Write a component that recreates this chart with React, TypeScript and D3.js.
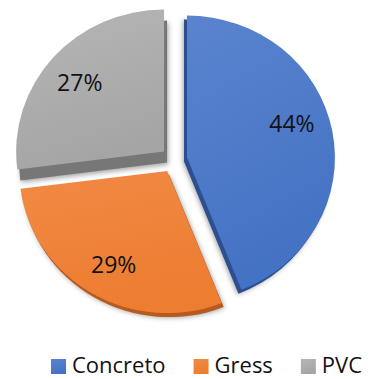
import React, { useEffect, useRef } from "react";
import * as d3 from "d3";

const categories = ["Concreto", "Gress", "PVC"];
const values = [44, 29, 27];
const labels = ["44%", "29%", "27%"];
const colors = ["#4472C4", "#ED7D31", "#A5A5A5"];
const lightColors = ["#5A84CF", "#F18A45", "#B6B6B6"];
const darkColors = ["#2C4F8F", "#B65A1E", "#777777"];

const W = 370;
const H = 379;
const CX = 174;
const CY = 160;
const R = 145;
const EXPLODE = 13;
const SX = 1.02;
const SY = 0.98;
const SIDE: [number, number][] = [[-3, 4], [2, 4], [3, 11]];
const FONT = "'Open Sans', 'Noto Sans', sans-serif";

export default function App() {
  const ref = useRef<SVGSVGElement>(null);
  useEffect(() => {
    const svg = d3.select(ref.current);
    svg.selectAll("*").remove();
    const defs = svg.append("defs");
    colors.forEach((c, i) => {
      const g = defs
        .append("linearGradient")
        .attr("id", `grad${i}`)
        .attr("x1", 0)
        .attr("y1", 0)
        .attr("x2", 0.3)
        .attr("y2", 1);
      g.append("stop").attr("offset", "0%").attr("stop-color", lightColors[i]);
      g.append("stop").attr("offset", "100%").attr("stop-color", c);
    });
    const f = defs
      .append("filter")
      .attr("id", "blur")
      .attr("x", "-20%")
      .attr("y", "-20%")
      .attr("width", "140%")
      .attr("height", "140%");
    f.append("feGaussianBlur").attr("stdDeviation", 2.5);

    const pie = d3.pie<number>().sort(null).value((d) => d)(values);
    const arc = d3.arc<d3.PieArcDatum<number>>().innerRadius(0).outerRadius(R);
    const slices = pie.map((p, i) => {
      const mid = (p.startAngle + p.endAngle) / 2;
      return { p, i, mid, dx: Math.sin(mid) * EXPLODE, dy: -Math.cos(mid) * EXPLODE };
    });
    const tr = (s: any, ox = 0, oy = 0) =>
      `translate(${CX + s.dx * SX + ox},${CY + s.dy * SY + oy}) scale(${SX},${SY})`;

    // soft shadows
    slices.forEach((s) => {
      svg
        .append("path")
        .attr("d", arc(s.p) as string)
        .attr("transform", tr(s, SIDE[s.i][0] * 1.4, SIDE[s.i][1] * 1.2))
        .attr("fill", "rgba(0,0,0,0.35)")
        .attr("filter", "url(#blur)");
    });
    // extruded sides
    slices.forEach((s) => {
      svg
        .append("path")
        .attr("d", arc(s.p) as string)
        .attr("transform", tr(s, SIDE[s.i][0], SIDE[s.i][1]))
        .attr("fill", darkColors[s.i]);
    });
    // faces
    slices.forEach((s) => {
      svg
        .append("path")
        .attr("d", arc(s.p) as string)
        .attr("transform", tr(s))
        .attr("fill", `url(#grad${s.i})`);
    });
    // labels (placed on the slice's bisector, pulled slightly toward 12 o'clock for wide slices)
    const lr = R * 0.75;
    slices.forEach((s) => {
      const span = s.p.endAngle - s.p.startAngle;
      const a = s.mid - Math.max(0, span - Math.PI / 2) * 0.12;
      const x = CX + (s.dx + Math.sin(a) * lr) * SX;
      const y = CY + (s.dy - Math.cos(a) * lr) * SY;
      svg
        .append("text")
        .attr("x", x)
        .attr("y", y)
        .attr("text-anchor", "middle")
        .attr("dominant-baseline", "central")
        .attr("font-family", FONT)
        .attr("font-size", 23)
        .attr("fill", "#111")
        .text(labels[s.i]);
    });
    // legend
    let lx = 51;
    const sq = 15;
    categories.forEach((c, i) => {
      svg
        .append("rect")
        .attr("x", lx)
        .attr("y", 359)
        .attr("width", sq)
        .attr("height", sq)
        .attr("fill", `url(#grad${i})`);
      const t = svg
        .append("text")
        .attr("x", lx + 21)
        .attr("y", 372.5)
        .attr("font-family", FONT)
        .attr("font-size", 22)
        .attr("fill", "#111")
        .text(c);
      const w = (t.node() as SVGTextElement).getComputedTextLength();
      lx = lx + 21 + w + 28;
    });
  }, []);
  return (
    <svg
      ref={ref}
      width={W}
      height={H}
      style={{ position: "absolute", left: 0, top: 0, background: "#fff" }}
    />
  );
}
